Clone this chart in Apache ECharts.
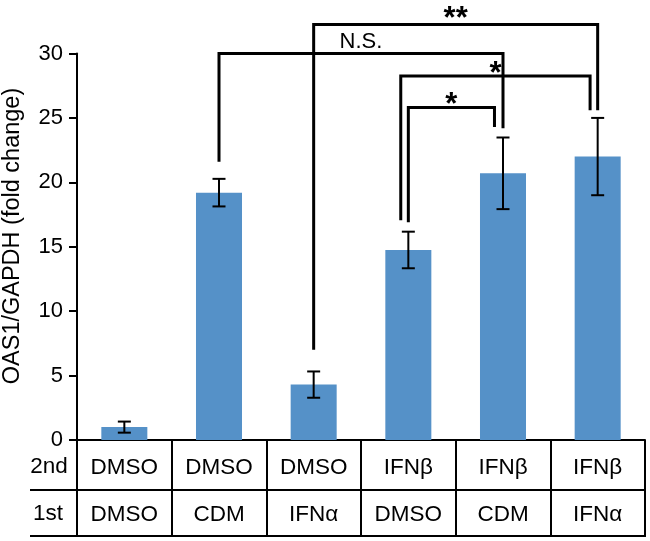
<!DOCTYPE html>
<html><head><meta charset="utf-8">
<script src="https://cdn.jsdelivr.net/npm/echarts@6/dist/echarts.min.js"></script>
<style>html,body{margin:0;padding:0;background:#fff}#c{width:650px;height:541px}</style>
</head><body><div id="c"></div>
<script>
// ---- data ----
const categories = ['c0','c1','c2','c3','c4','c5'];
const secondRow = ['DMSO','DMSO','DMSO','IFNβ','IFNβ','IFNβ'];
const firstRow = ['DMSO','CDM','IFNα','DMSO','CDM','IFNα'];
const rowHeaders = ['2nd','1st'];
const yTitle = 'OAS1/GAPDH (fold change)';
const means = [1.0, 19.2, 4.3, 14.75, 20.7, 22.0];
const errors = [0.43, 1.07, 1.02, 1.42, 2.78, 3.0];
const yMin = 0, yMax = 30, yStep = 5;
// significance brackets (category index, shift in band units, y values)
const bracketFrom = [1, 2, 3, 3];
const bracketTo = [4, 5, 5, 4];
const bracketFromShift = [0, 0, -0.08, 0];
const bracketToShift = [0, 0, -0.08, -0.09];
const bracketLeftY = [21.6, 7.0, 17.05, 16.9];
const bracketTopY = [30.0, 32.25, 28.25, 25.8];
const bracketRightY = [24.2, 25.6, 25.6, 24.3];
const bracketLabels = ['N.S.', '**', '*', '*'];

const FONT = '"Liberation Sans", Arial, Helvetica, sans-serif';
const chart = echarts.init(document.getElementById('c'), null, {renderer: 'canvas'});

const option = {
  animation: false,
  textStyle: {fontFamily: FONT},
  grid: {left: 77, right: 5, top: 53.5, bottom: 101, containLabel: false},
  xAxis: [
    {type: 'category', data: categories, position: 'bottom', boundaryGap: true,
     axisLine: {show: true, lineStyle: {color: '#000', width: 2}},
     axisTick: {show: true, length: 96, alignWithLabel: false, lineStyle: {color: '#000', width: 2}},
     axisLabel: {interval: 0, formatter: (v, i) => secondRow[i], fontSize: 22.5, color: '#000', fontFamily: FONT, margin: 16}},
    {type: 'category', data: categories, position: 'bottom', offset: 50, boundaryGap: true,
     axisLine: {show: true, lineStyle: {color: '#000', width: 2}},
     axisTick: {show: false},
     axisLabel: {interval: 0, formatter: (v, i) => firstRow[i], fontSize: 22.5, color: '#000', fontFamily: FONT, margin: 13}}
  ],
  yAxis: {type: 'value', min: yMin, max: yMax, interval: yStep,
    axisLine: {show: true, lineStyle: {color: '#000', width: 2}},
    axisTick: {show: true, length: 8, lineStyle: {color: '#000', width: 2}},
    splitLine: {show: false},
    axisLabel: {fontSize: 22, color: '#000', fontFamily: FONT, margin: 14}},
  series: [
    {type: 'bar', data: means, barWidth: '48.6%', itemStyle: {color: '#5591c8'}, z: 2},
    {type: 'custom', clip: false, z: 3,
     data: means.map((m, i) => [i, m - errors[i], m + errors[i]]),
     renderItem: (params, api) => {
       const lo = api.coord([api.value(0), api.value(1)]);
       const hi = api.coord([api.value(0), api.value(2)]);
       const hw = 6.5;
       const st = {stroke: '#000', lineWidth: 2};
       return {type: 'group', children: [
         {type: 'line', shape: {x1: lo[0], y1: lo[1], x2: hi[0], y2: hi[1]}, style: st},
         {type: 'line', shape: {x1: lo[0] - hw, y1: lo[1], x2: lo[0] + hw, y2: lo[1]}, style: st},
         {type: 'line', shape: {x1: hi[0] - hw, y1: hi[1], x2: hi[0] + hw, y2: hi[1]}, style: st}
       ]};
     }},
    {type: 'custom', clip: false, z: 4,
     data: bracketLabels.map((l, i) => [bracketFrom[i], bracketTopY[i]]),
     renderItem: (params, api) => {
       const i = params.dataIndex;
       const band = api.size([1, 0])[0];
       const pL = api.coord([bracketFrom[i], bracketLeftY[i]]);
       const pT = api.coord([bracketFrom[i], bracketTopY[i]]);
       const pR = api.coord([bracketTo[i], bracketRightY[i]]);
       const xl = pL[0] + bracketFromShift[i] * band;
       const xr = pR[0] + bracketToShift[i] * band;
       const yt = pT[1];
       const isStar = bracketLabels[i].indexOf('*') >= 0;
       return {type: 'group', children: [
         {type: 'polyline', shape: {points: [[xl, pL[1]], [xl, yt], [xr, yt], [xr, pR[1]]]},
          style: {stroke: '#000', lineWidth: 3, fill: null, lineJoin: 'miter'}},
         {type: 'text', x: (xl + xr) / 2, y: isStar ? yt - 2 - (bracketLabels[i].length - 1) * 3 : yt - 12,
          style: {text: bracketLabels[i], fill: '#000',
                  font: isStar ? ('bold 31px ' + FONT) : ('22px ' + FONT),
                  align: 'center', verticalAlign: 'middle',
                  textAlign: 'center', textVerticalAlign: 'middle'}}
       ]};
     }}
  ]
};
chart.setOption(option);

// table frame & header labels (layout)
const y0 = chart.convertToPixel({yAxisIndex: 0}, 0);
const xR = chart.convertToPixel({xAxisIndex: 0}, 5) + chart.getModel().getComponent('xAxis', 0).axis.getBandWidth() / 2;
const tableLeft = 30;
chart.setOption({
  graphic: [
    {type: 'line', shape: {x1: tableLeft, y1: y0 + 50, x2: 78, y2: y0 + 50}, style: {stroke: '#000', lineWidth: 2}},
    {type: 'line', shape: {x1: tableLeft, y1: y0 + 96, x2: xR + 1, y2: y0 + 96}, style: {stroke: '#000', lineWidth: 2}},
    {type: 'text', x: 49, y: y0 + 27, style: {text: rowHeaders[0], fill: '#000', font: '22.5px ' + FONT, align: 'center', verticalAlign: 'middle', textAlign: 'center', textVerticalAlign: 'middle'}},
    {type: 'text', x: 48, y: y0 + 74, style: {text: rowHeaders[1], fill: '#000', font: '22.5px ' + FONT, align: 'center', verticalAlign: 'middle', textAlign: 'center', textVerticalAlign: 'middle'}},
    {type: 'text', x: 12.5, y: 236, rotation: Math.PI / 2, style: {text: yTitle, fill: '#000', font: '23.5px ' + FONT, align: 'center', verticalAlign: 'middle', textAlign: 'center', textVerticalAlign: 'middle'}}
  ]
});
</script>
</body></html>
